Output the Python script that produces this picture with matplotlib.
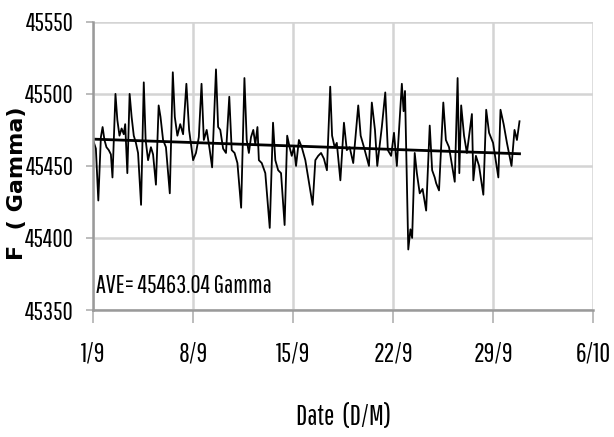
import numpy as np
import matplotlib
matplotlib.use("Agg")
import matplotlib.pyplot as plt

# days since 1 Sept
days = [0.0, 0.2, 0.37, 0.55, 0.67, 0.8, 0.94, 1.1, 1.25, 1.36, 1.57, 1.7, 1.85, 2.0, 2.15,
        2.25, 2.4, 2.56, 2.7, 2.85, 3.0, 3.15, 3.36, 3.55, 3.68, 3.85, 4.05, 4.2, 4.4, 4.59,
        4.72, 4.9, 5.1, 5.37, 5.58, 5.72, 5.9, 6.1, 6.3, 6.53, 6.72, 7.0, 7.2, 7.4, 7.59,
        7.75, 7.95, 8.15, 8.33, 8.6, 8.75, 8.9, 9.1, 9.3, 9.53, 9.7, 9.9, 10.1, 10.36, 10.59,
        10.75, 10.9, 11.05, 11.21, 11.35, 11.5, 11.6, 11.8, 12.05, 12.36, 12.59, 12.75, 12.95,
        13.15, 13.4, 13.58, 13.75, 13.9, 14.05, 14.2, 14.4, 14.6, 14.85, 15.36, 15.55, 15.75,
        15.95, 16.15, 16.36, 16.59, 16.72, 16.9, 17.05, 17.3, 17.55, 17.75, 17.95, 18.2, 18.55,
        18.72, 18.95, 19.3, 19.5, 19.72, 19.88, 20.2, 20.44, 20.62, 20.85, 21.05, 21.25, 21.6,
        21.72, 21.82, 22.05, 22.2, 22.32, 22.5, 22.65, 22.85, 23.05, 23.3, 23.55, 23.72, 23.9,
        24.0, 24.2, 24.5, 24.68, 24.9, 25.3, 25.5, 25.62, 25.75, 25.95, 26.15, 26.5, 26.6,
        26.78, 27.0, 27.3, 27.5, 27.7, 27.98, 28.35, 28.5, 28.72, 28.95, 29.27, 29.48, 29.65,
        29.83]
field = [45468, 45462, 45426, 45470, 45477, 45468, 45463, 45461, 45458, 45442, 45500, 45482,
         45471, 45476, 45472, 45479, 45445, 45500, 45484, 45471, 45466, 45459, 45423, 45508,
         45468, 45454, 45463, 45458, 45437, 45492, 45484, 45468, 45463, 45431, 45515, 45484,
         45471, 45479, 45472, 45507, 45475, 45454, 45459, 45470, 45507, 45468, 45475, 45462,
         45449, 45517, 45477, 45475, 45462, 45459, 45498, 45461, 45459, 45452, 45421, 45511,
         45468, 45459, 45470, 45475, 45465, 45477, 45454, 45452, 45445, 45407, 45480, 45454,
         45447, 45445, 45409, 45471, 45463, 45457, 45463, 45450, 45468, 45463, 45454, 45423,
         45454, 45457, 45459, 45455, 45447, 45505, 45471, 45463, 45466, 45440, 45480, 45461,
         45463, 45452, 45492, 45471, 45463, 45450, 45494, 45475, 45450, 45477, 45501, 45461,
         45457, 45473, 45450, 45507, 45488, 45502, 45392, 45406, 45400, 45459, 45445, 45431,
         45434, 45419, 45478, 45447, 45442, 45438, 45433, 45494, 45468, 45463, 45439, 45511,
         45445, 45492, 45471, 45459, 45486, 45440, 45457, 45450, 45430, 45489, 45473, 45466,
         45442, 45489, 45479, 45466, 45450, 45475, 45468, 45481]

tick_days = [0, 7, 14, 21, 28, 35]
tick_labels = ["1/9", "8/9", "15/9", "22/9", "29/9", "6/10"]
y_ticks = [45350, 45400, 45450, 45500, 45550]
ave_text = "AVE= 45463.04 Gamma"

narrow = ["Pathway Gothic One", "DejaVu Sans"]

fig = plt.figure(figsize=(6.14, 4.37), dpi=100)
ax = fig.add_axes([0.1515, 0.2906, 0.815, 0.6594])

ax.plot(days, field, color="black", lw=1.3)

# linear trend line
coef = np.polyfit(days, field, 1)
xt = np.array([days[0], days[-1]])
ax.plot(xt, np.polyval(coef, xt), color="black", lw=2)

ax.set_xlim(0, 35)
ax.set_ylim(45350, 45550)
ax.set_xticks(tick_days)
ax.set_xticklabels(tick_labels, family=narrow, fontsize=19)
ax.set_yticks(y_ticks)
ax.set_yticklabels([str(v) for v in y_ticks], family=narrow, fontsize=18)
ax.grid(True, color="#d4d4d4", lw=1.8)
ax.set_axisbelow(True)
for s in ["top", "right"]:
    ax.spines[s].set_visible(False)
for s in ["left", "bottom"]:
    ax.spines[s].set_color("#9a9a9a")
    ax.spines[s].set_linewidth(1.8)
ax.tick_params(axis="x", color="#b0b0b0", width=1.2, length=9, pad=14)
ax.tick_params(axis="y", color="#b0b0b0", width=1.2, length=5, pad=9)

ax.text(0.2, 45362, ave_text, family=narrow, fontsize=18, va="baseline")

fig.text(0.56, 0.0275, "Date  (D/M)", family=narrow, fontsize=20,
         ha="center", va="baseline")
fig.text(0.028, 0.581, "F  ( Gamma)", rotation=90, fontsize=16, fontweight="bold",
         family=["DejaVu Sans"], ha="center", va="center")

fig.savefig("out.png", dpi=100)
